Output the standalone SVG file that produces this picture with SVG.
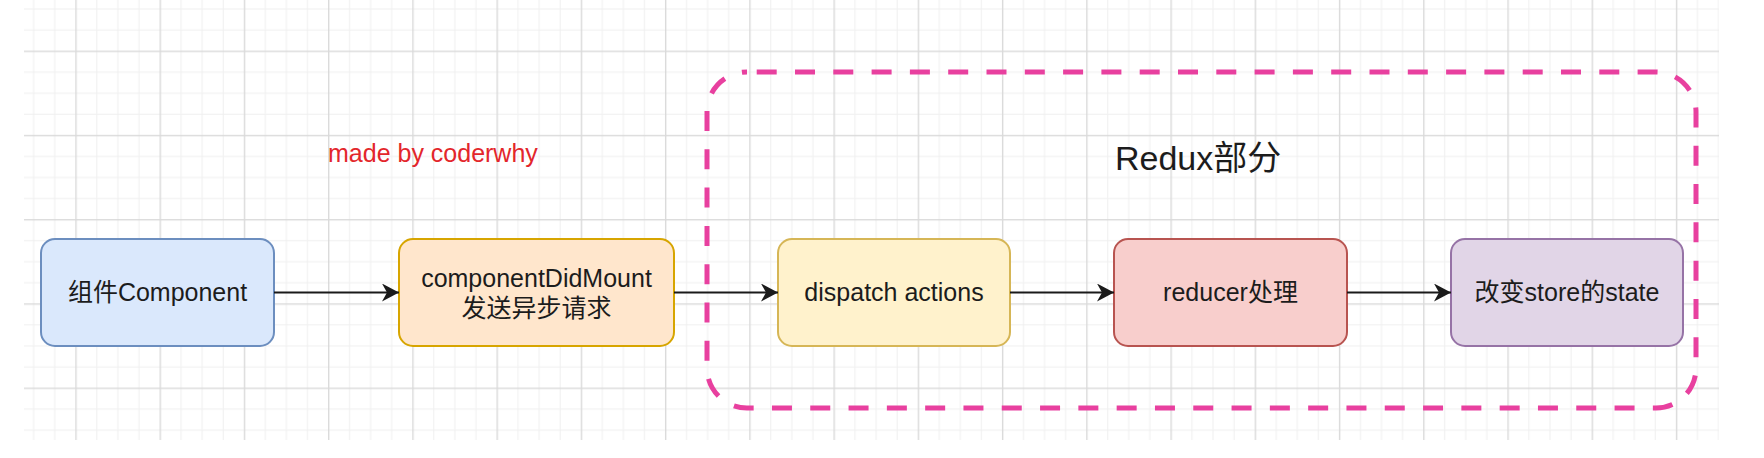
<svg xmlns="http://www.w3.org/2000/svg" width="1764" height="458" viewBox="0 0 1764 458">
  <style>
    .lbl { font-family: "Liberation Sans", "Noto Sans CJK SC", sans-serif; font-size: 25px; fill: #1c1c1c; text-anchor: middle; }
    .node { stroke-width: 2; }
    .conn { stroke: #1a1a1a; stroke-width: 2; fill: none; }
  </style>
  <defs>
    <pattern id="grid" x="75.3" y="50.6" width="84.24" height="84.24" patternUnits="userSpaceOnUse">
      <rect x="21.06" y="0" width="1" height="84.24" fill="#efefef"/>
      <rect x="42.12" y="0" width="1" height="84.24" fill="#efefef"/>
      <rect x="63.18" y="0" width="1" height="84.24" fill="#efefef"/>
      <rect x="0" y="21.06" width="84.24" height="1" fill="#efefef"/>
      <rect x="0" y="42.12" width="84.24" height="1" fill="#efefef"/>
      <rect x="0" y="63.18" width="84.24" height="1" fill="#efefef"/>
      <rect x="0" y="0" width="1.4" height="84.24" fill="#dadada"/>
      <rect x="0" y="0" width="84.24" height="1.4" fill="#dadada"/>
    </pattern>
    <marker id="arrow" markerUnits="userSpaceOnUse" markerWidth="18" markerHeight="18" refX="17" refY="9" orient="auto">
      <path d="M17,9 L0,0 L5,9 L0,18 Z" fill="#1a1a1a"/>
    </marker>
  </defs>

  <rect x="0" y="0" width="1764" height="458" fill="#ffffff"/>
  <rect id="grid-bg" x="24" y="0" width="1695" height="440" fill="url(#grid)"/>

  <text id="watermark" x="328" y="162" style="font-family: 'Liberation Sans', sans-serif; font-size: 25px; fill: #e3262b;">made by coderwhy</text>

  <g id="redux-title">
    <text x="1115" y="170" style="font-family: 'Liberation Sans', 'Noto Sans CJK SC', sans-serif; font-size: 34px; fill: #1c1c1c;">Redux部分</text>
  </g>

  <g id="node-component">
    <rect class="node" x="41" y="239" width="233" height="107" rx="14" fill="#dae8fc" stroke="#6c8ebf"/>
    <text class="lbl" x="157.5" y="301">组件Component</text>
  </g>

  <g id="node-didmount">
    <rect class="node" x="399" y="239" width="275" height="107" rx="14" fill="#ffe6cc" stroke="#d7a500"/>
    <text class="lbl" x="536.5" y="287">componentDidMount</text>
    <text class="lbl" x="536.5" y="317">发送异步请求</text>
  </g>

  <g id="node-dispatch">
    <rect class="node" x="778" y="239" width="232" height="107" rx="14" fill="#fff2cc" stroke="#d6b656"/>
    <text class="lbl" x="894" y="301">dispatch actions</text>
  </g>

  <g id="node-reducer">
    <rect class="node" x="1114" y="239" width="233" height="107" rx="14" fill="#f8cecc" stroke="#b85450"/>
    <text class="lbl" x="1230.5" y="301">reducer处理</text>
  </g>

  <g id="node-state">
    <rect class="node" x="1451" y="239" width="232" height="107" rx="14" fill="#e1d5e7" stroke="#9673a6"/>
    <text class="lbl" x="1567" y="301">改变store的state</text>
  </g>

  <g id="connectors">
    <line class="conn" x1="274" y1="292.5" x2="399" y2="292.5" marker-end="url(#arrow)"/>
    <line class="conn" x1="674" y1="292.5" x2="778" y2="292.5" marker-end="url(#arrow)"/>
    <line class="conn" x1="1010" y1="292.5" x2="1114" y2="292.5" marker-end="url(#arrow)"/>
    <line class="conn" x1="1347" y1="292.5" x2="1451" y2="292.5" marker-end="url(#arrow)"/>
  </g>

  <g id="redux-group">
    <rect x="707" y="72" width="989" height="336" rx="40" fill="none" stroke="#e8409f" stroke-width="5" stroke-dasharray="20 18.3" stroke-dashoffset="28.6"/>
  </g>
</svg>
